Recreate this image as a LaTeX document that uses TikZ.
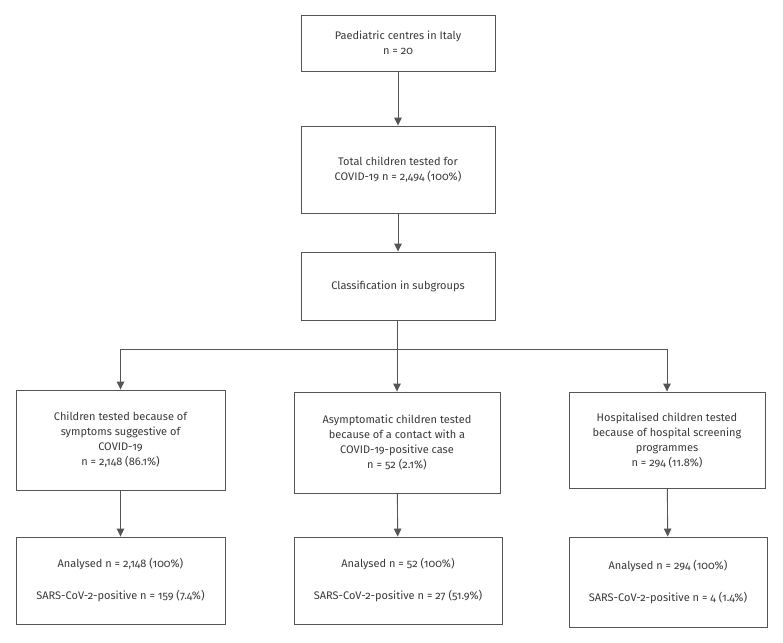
\documentclass[tikz,border=0pt]{standalone}
\usepackage{fontspec}
\setmainfont{Fira Sans}[Numbers=OldStyle]
\usetikzlibrary{arrows.meta}
\definecolor{txt}{HTML}{3A3A3A}
\definecolor{ln}{HTML}{555555}
\begin{document}
\begin{tikzpicture}[x=1pt,y=-1pt,
  box/.style={draw=ln, line width=0.9pt, text=txt, align=center, font=\fontsize{11}{15}\selectfont, inner sep=2pt},
  arr/.style={draw=ln, line width=0.9pt, -{Triangle[width=7.5pt,length=8pt]}},
  lin/.style={draw=ln, line width=0.9pt}]
\useasboundingbox[fill=white] (0,0) rectangle (783,642);
\node[box, minimum width=194pt, minimum height=56pt] (b1) at (398,43) {Paediatric centres in Italy\\n = 20};
\node[box, minimum width=194pt, minimum height=87pt] (b2) at (398,169.5) {Total children tested for\\COVID-19 n = 2,494 (100\%)};
\node[box, minimum width=194pt, minimum height=68pt] (b3) at (398,286) {Classification in subgroups};
\node[box, minimum width=209pt, minimum height=100pt] (c1) at (120.5,440) {Children tested because of\\symptoms suggestive of\\COVID-19\\n = 2,148 (86.1\%)};
\node[box, minimum width=206pt, minimum height=101pt] (c2) at (397,442.5) {Asymptomatic children tested\\because of a contact with a\\COVID-19-positive case\\n = 52 (2.1\%)};
\node[box, minimum width=196pt, minimum height=96pt] (c3) at (667,440) {Hospitalised children tested\\because of hospital screening\\programmes\\n = 294 (11.8\%)};
\node[box, minimum width=209pt, minimum height=87pt] (d1) at (120.5,580.5) {Analysed n = 2,148 (100\%)\\[17pt]SARS-CoV-2-positive n = 159 (7.4\%)};
\node[box, minimum width=208pt, minimum height=87pt] (d2) at (398,580.5) {Analysed n = 52 (100\%)\\[17pt]SARS-CoV-2-positive n = 27 (51.9\%)};
\node[box, minimum width=198pt, minimum height=90pt] (d3) at (668,582) {Analysed n = 294 (100\%)\\[17pt]SARS-CoV-2-positive n = 4 (1.4\%)};
\coordinate (hj) at (397,349);
\draw[arr] (b1) -- (b2);
\draw[arr] (b2) -- (b3);
\draw[lin] (b3.south -| hj) -- (hj);
\draw[arr] (hj) -| (c1.north);
\draw[arr] (hj) -| (c3.north);
\draw[arr] (hj) -- (c2.north -| hj);
\draw[arr] (c1) -- (d1);
\draw[arr] (c2) -- (d2);
\draw[arr] (c3) -- (d3);
\end{tikzpicture}
\end{document}
